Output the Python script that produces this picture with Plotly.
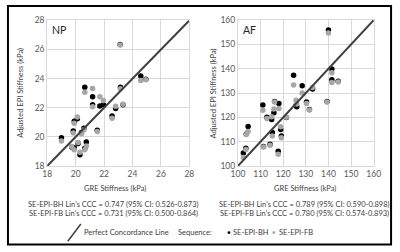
import plotly.graph_objects as go

# ---------------- data ----------------
np_gre = [19.0, 19.72, 19.9, 19.83, 19.9, 20.12, 20.17, 20.3, 20.41, 20.58, 20.64, 20.64, 20.75,
          21.19, 21.19, 21.52, 21.7, 21.95, 22.56, 22.81, 23.13, 23.15, 23.33, 24.58, 24.94]
np_bh = [19.95, 19.3, 19.25, 20.4, 21.08, 21.25, 19.55, 18.77, 20.3, 20.6, 23.41, 19.22, 19.65,
         22.75, 22.2, 20.45, 22.13, 22.2, 21.43, 21.95, 26.35, 23.41, 22.2, 24.18, 23.95]
np_fb = [19.72, 19.35, 19.12, 20.27, 20.93, 21.36, 19.61, 18.95, 20.22, 20.49, 23.06, 19.12, 19.38,
         23.32, 22.07, 20.37, 22.75, 22.5, 21.28, 22.1, 26.31, 23.3, 22.25, 23.87, 23.93]

af_gre = [102.4, 103.5, 103.7, 104.5, 111.0, 111.3, 112.8, 114.2, 114.9, 115.2, 115.9, 116.2, 118.1,
          117.8, 118.9, 119.2, 121.4, 124.6, 125.7, 126.0, 128.4, 130.3, 131.6, 133.0, 139.4,
          140.0, 141.5, 141.5, 144.3]
af_bh = [105.4, 107.3, 113.2, 116.3, 125.1, 108.0, 120.1, 109.0, 119.1, 113.8, 121.9, 126.5, 125.7,
         106.1, 115.0, 112.3, 120.0, 137.3, 125.0, 124.4, 133.0, 126.3, 123.2, 131.7, 126.5,
         155.9, 139.9, 135.5, 134.9]
af_fb = [103.5, 106.8, 113.0, 114.2, 122.9, 107.8, 119.5, 108.6, 120.3, 112.4, 123.5, 126.3, 123.7,
         104.9, 116.2, 111.6, 120.1, 133.3, 127.0, 125.5, 130.0, 125.7, 123.0, 132.3, 126.3,
         154.7, 138.3, 134.3, 134.5]

np_line = [18, 28]
af_line = [100, 160]
np_ticks = [18, 20, 22, 24, 26, 28]
af_ticks = [100, 110, 120, 130, 140, 150, 160]

np_ccc = ["SE-EPI-BH Lin's CCC = 0.747 (95% CI: 0.526-0.873)",
          "SE-EPI-FB Lin's CCC = 0.731 (95% CI: 0.500-0.864)"]
af_ccc = ["SE-EPI-BH Lin's CCC = 0.789 (95% CI: 0.590-0.898)",
          "SE-EPI-FB Lin's CCC = 0.780 (95% CI: 0.574-0.893)"]

# ---------------- figure ----------------
W, H = 400, 252
FONT = "Lato"
TXT = "#404040"
BH_COL = "#000000"
FB_COL = "#a6a6a6"
LINE_COL = "#404040"

def px(x):
    return x / W

def py(y):
    return 1 - y / H

fig = go.Figure()

for xa, ya, gre, bh, fb, ln in [("x", "y", np_gre, np_bh, np_fb, np_line),
                                ("x2", "y2", af_gre, af_bh, af_fb, af_line)]:
    fig.add_trace(go.Scatter(x=gre, y=bh, mode="markers", xaxis=xa, yaxis=ya,
                             marker=dict(color=BH_COL, size=5.5, line=dict(width=0)),
                             showlegend=False, hoverinfo="skip"))
    fig.add_trace(go.Scatter(x=gre, y=fb, mode="markers", xaxis=xa, yaxis=ya,
                             marker=dict(color=FB_COL, size=5.5, line=dict(width=0)),
                             showlegend=False, hoverinfo="skip"))
    fig.add_trace(go.Scatter(x=ln, y=ln, mode="lines", xaxis=xa, yaxis=ya,
                             line=dict(color=LINE_COL, width=2),
                             showlegend=False, hoverinfo="skip"))

axis_common = dict(showgrid=True, gridcolor="#d9d9d9", gridwidth=1, zeroline=False,
                   showline=True, linecolor="#d9d9d9", linewidth=1, mirror=True,
                   ticks="", tickfont=dict(family=FONT, size=8.5, color="#595959"),
                   fixedrange=True)

fig.update_layout(
    width=W, height=H, autosize=False,
    margin=dict(l=0, r=0, t=0, b=0),
    paper_bgcolor="white", plot_bgcolor="white",
    font=dict(family=FONT, color=TXT),
    xaxis=dict(domain=[px(41.7), px(189)], range=[18, 28], tickvals=np_ticks, anchor="y", **axis_common),
    yaxis=dict(domain=[py(167.7), py(16)], range=[18, 28], tickvals=np_ticks, anchor="x", **axis_common),
    xaxis2=dict(domain=[px(239.3), px(380)], range=[100, 160], tickvals=af_ticks, anchor="y2", **axis_common),
    yaxis2=dict(domain=[py(167.7), py(15.7)], range=[100, 160], tickvals=af_ticks, anchor="x2", **axis_common),
)

ann = []
def add_text(x, y, text, size=7.5, angle=0, xanchor="center", color=TXT):
    ann.append(dict(x=px(x), y=py(y), xref="paper", yref="paper", text=text, showarrow=False,
                    xanchor=xanchor, yanchor="middle", textangle=angle,
                    font=dict(family=FONT, size=size, color=color)))

# panel labels
add_text(45, 26, "NP", size=10.5, xanchor="left", color="#262626")
add_text(243, 26, "AF", size=10.5, xanchor="left", color="#262626")
# axis titles
add_text(112, 191, "GRE Stiffness (kPa)", size=7.5)
add_text(309, 191, "GRE Stiffness (kPa)", size=7.5)
add_text(14, 92, "Adjusted EPI Stiffness (kPa)", size=7.5, angle=-90)
add_text(213.5, 92, "Adjusted EPI Stiffness (kPa)", size=7.5, angle=-90)
# CCC text
add_text(110, 207.3, np_ccc[0])
add_text(110, 217.5, np_ccc[1])
add_text(308, 207.3, af_ccc[0])
add_text(308, 217.5, af_ccc[1])
# legend
add_text(78, 237, "Perfect Concordance Line", xanchor="left")
add_text(175, 237, "Sequence:", xanchor="left")
add_text(232.5, 237, "SE-EPI-BH", xanchor="left")
add_text(279.5, 237, "SE-EPI-FB", xanchor="left")
fig.update_layout(annotations=ann)

shapes = [
    dict(type="rect", xref="paper", yref="paper", x0=px(1), x1=px(398), y0=py(249.5), y1=py(1),
         line=dict(color="black", width=2), fillcolor="rgba(0,0,0,0)"),
    dict(type="line", xref="paper", yref="paper", x0=px(63), y0=py(246), x1=px(76.5), y1=py(228),
         line=dict(color=LINE_COL, width=1.5)),
    dict(type="circle", xref="paper", yref="paper", x0=px(228.5), x1=px(231.5), y0=py(238.5), y1=py(235.5),
         fillcolor=BH_COL, line=dict(width=0)),
    dict(type="circle", xref="paper", yref="paper", x0=px(275), x1=px(278), y0=py(238.5), y1=py(235.5),
         fillcolor=FB_COL, line=dict(width=0)),
]
fig.update_layout(shapes=shapes)

fig.write_html("out.html", config={"displayModeBar": False},
               post_script="document.body.style.margin='0';document.body.style.overflow='hidden';")
